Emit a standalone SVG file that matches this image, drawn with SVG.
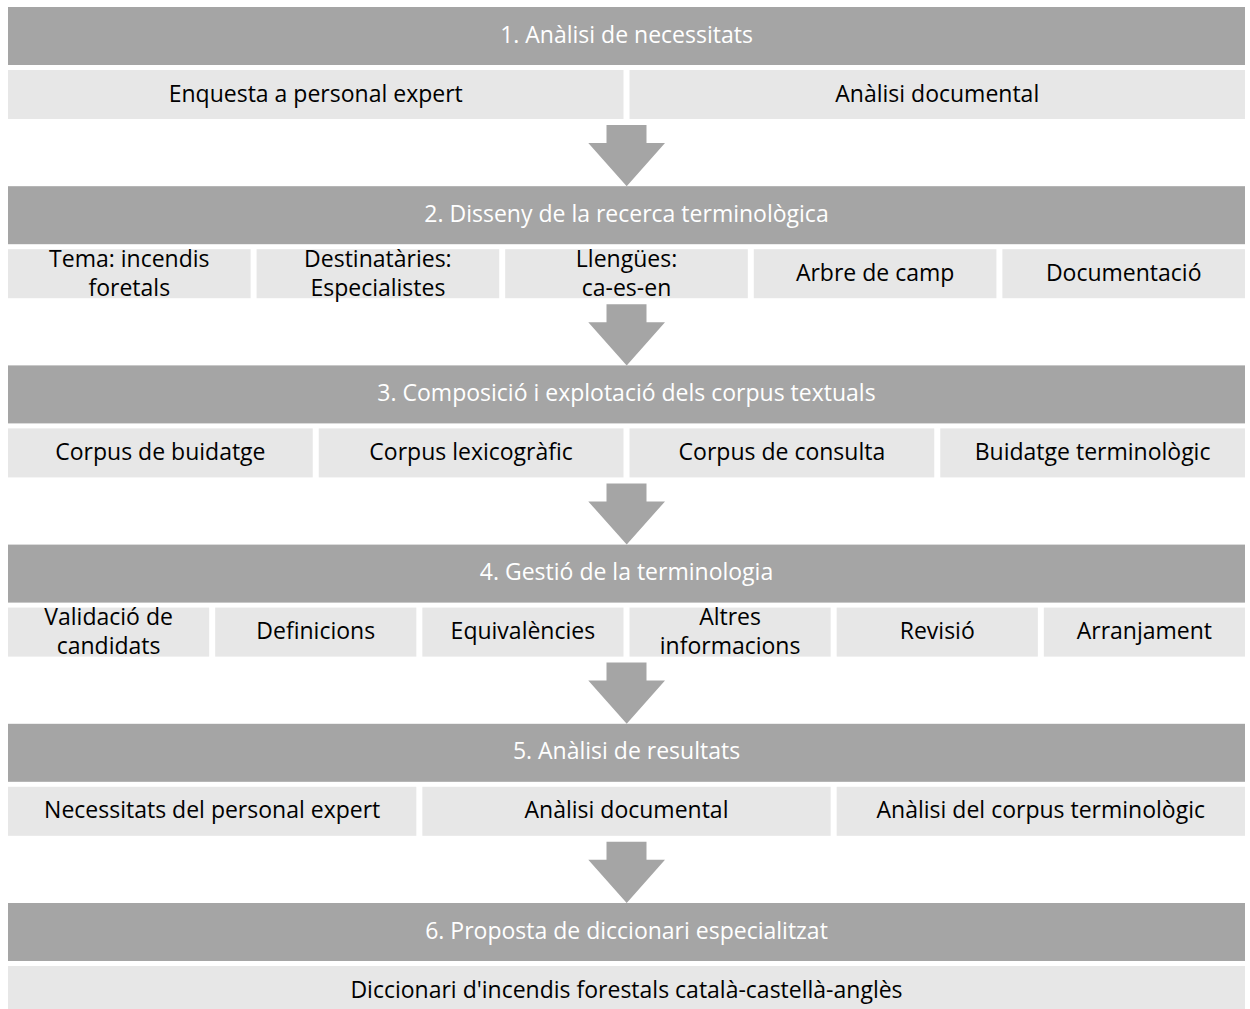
<svg xmlns="http://www.w3.org/2000/svg" width="1250" height="1009" viewBox="0 0 1250 1009">
  <style>
    .hdr { fill: #a5a5a5; }
    .cell { fill: #e7e7e7; }
    .arrow { fill: #a5a5a5; }
    text { font-family: "Open Sans", "Liberation Sans", sans-serif; font-size: 23px; text-anchor: middle; }
    .ht { fill: #ffffff; }
    .ct { fill: #000000; }
  </style>
  <defs>
    <path id="down" d="M606.5,0 H646.5 V18 H665 L626.7,61.2 L588.3,18 H606.5 Z"/>
  </defs>
  <rect width="1250" height="1009" fill="#ffffff"/>

  <!-- flow arrows between stages -->
  <g id="connectors">
    <use href="#down" class="arrow" transform="translate(0,125)"/>
    <use href="#down" class="arrow" transform="translate(0,304.2)"/>
    <use href="#down" class="arrow" transform="translate(0,483.4)"/>
    <use href="#down" class="arrow" transform="translate(0,662.6)"/>
    <use href="#down" class="arrow" transform="translate(0,841.8)"/>
  </g>

  <!-- stage 1 -->
  <g id="stage1">
    <rect class="hdr" x="8" y="7" width="1237" height="58"/>
    <text class="ht" x="626.5" y="42.5">1. Anàlisi de necessitats</text>
  </g>
  <g id="s1-enquesta">
    <rect class="cell" x="8" y="70" width="615.5" height="49"/>
    <text class="ct" x="315.75" y="101.5">Enquesta a personal expert</text>
  </g>
  <g id="s1-documental">
    <rect class="cell" x="629.5" y="70" width="615.5" height="49"/>
    <text class="ct" x="937.25" y="101.5">Anàlisi documental</text>
  </g>

  <!-- stage 2 -->
  <g id="stage2">
    <rect class="hdr" x="8" y="186.2" width="1237" height="58"/>
    <text class="ht" x="626.5" y="221.7">2. Disseny de la recerca terminològica</text>
  </g>
  <g id="s2-tema">
    <rect class="cell" x="8" y="249.2" width="242.6" height="49"/>
    <text class="ct" x="129.3" y="266.7">Tema: incendis</text>
    <text class="ct" x="129.3" y="295.7">foretals</text>
  </g>
  <g id="s2-destinataries">
    <rect class="cell" x="256.6" y="249.2" width="242.6" height="49"/>
    <text class="ct" x="377.9" y="266.7">Destinatàries:</text>
    <text class="ct" x="377.9" y="295.7">Especialistes</text>
  </g>
  <g id="s2-llengues">
    <rect class="cell" x="505.2" y="249.2" width="242.6" height="49"/>
    <text class="ct" x="626.5" y="266.7">Llengües:</text>
    <text class="ct" x="626.5" y="295.7">ca-es-en</text>
  </g>
  <g id="s2-arbre">
    <rect class="cell" x="753.8" y="249.2" width="242.6" height="49"/>
    <text class="ct" x="875.1" y="280.7">Arbre de camp</text>
  </g>
  <g id="s2-documentacio">
    <rect class="cell" x="1002.4" y="249.2" width="242.6" height="49"/>
    <text class="ct" x="1123.7" y="280.7">Documentació</text>
  </g>

  <!-- stage 3 -->
  <g id="stage3">
    <rect class="hdr" x="8" y="365.4" width="1237" height="58"/>
    <text class="ht" x="626.5" y="400.9">3. Composició i explotació dels corpus textuals</text>
  </g>
  <g id="s3-buidatge">
    <rect class="cell" x="8" y="428.4" width="304.75" height="49"/>
    <text class="ct" x="160.4" y="459.9">Corpus de buidatge</text>
  </g>
  <g id="s3-lexicografic">
    <rect class="cell" x="318.75" y="428.4" width="304.75" height="49"/>
    <text class="ct" x="471.1" y="459.9">Corpus lexicogràfic</text>
  </g>
  <g id="s3-consulta">
    <rect class="cell" x="629.5" y="428.4" width="304.75" height="49"/>
    <text class="ct" x="781.9" y="459.9">Corpus de consulta</text>
  </g>
  <g id="s3-terminologic">
    <rect class="cell" x="940.25" y="428.4" width="304.75" height="49"/>
    <text class="ct" x="1092.6" y="459.9">Buidatge terminològic</text>
  </g>

  <!-- stage 4 -->
  <g id="stage4">
    <rect class="hdr" x="8" y="544.6" width="1237" height="58"/>
    <text class="ht" x="626.5" y="580.1">4. Gestió de la terminologia</text>
  </g>
  <g id="s4-validacio">
    <rect class="cell" x="8" y="607.6" width="201.17" height="49"/>
    <text class="ct" x="108.6" y="625.1">Validació de</text>
    <text class="ct" x="108.6" y="654.1">candidats</text>
  </g>
  <g id="s4-definicions">
    <rect class="cell" x="215.17" y="607.6" width="201.17" height="49"/>
    <text class="ct" x="315.75" y="639.1">Definicions</text>
  </g>
  <g id="s4-equivalencies">
    <rect class="cell" x="422.33" y="607.6" width="201.17" height="49"/>
    <text class="ct" x="522.9" y="639.1">Equivalències</text>
  </g>
  <g id="s4-altres">
    <rect class="cell" x="629.5" y="607.6" width="201.17" height="49"/>
    <text class="ct" x="730.1" y="625.1">Altres</text>
    <text class="ct" x="730.1" y="654.1">informacions</text>
  </g>
  <g id="s4-revisio">
    <rect class="cell" x="836.67" y="607.6" width="201.17" height="49"/>
    <text class="ct" x="937.25" y="639.1">Revisió</text>
  </g>
  <g id="s4-arranjament">
    <rect class="cell" x="1043.83" y="607.6" width="201.17" height="49"/>
    <text class="ct" x="1144.4" y="639.1">Arranjament</text>
  </g>

  <!-- stage 5 -->
  <g id="stage5">
    <rect class="hdr" x="8" y="723.8" width="1237" height="58"/>
    <text class="ht" x="626.5" y="759.3">5. Anàlisi de resultats</text>
  </g>
  <g id="s5-necessitats">
    <rect class="cell" x="8" y="786.8" width="408.33" height="49"/>
    <text class="ct" x="212.2" y="818.3">Necessitats del personal expert</text>
  </g>
  <g id="s5-documental">
    <rect class="cell" x="422.33" y="786.8" width="408.33" height="49"/>
    <text class="ct" x="626.5" y="818.3">Anàlisi documental</text>
  </g>
  <g id="s5-corpus">
    <rect class="cell" x="836.67" y="786.8" width="408.33" height="49"/>
    <text class="ct" x="1040.8" y="818.3">Anàlisi del corpus terminològic</text>
  </g>

  <!-- stage 6 -->
  <g id="stage6">
    <rect class="hdr" x="8" y="903" width="1237" height="58"/>
    <text class="ht" x="626.5" y="938.5">6. Proposta de diccionari especialitzat</text>
  </g>
  <g id="s6-diccionari">
    <rect class="cell" x="8" y="966" width="1237" height="49"/>
    <text class="ct" x="626.5" y="997.5">Diccionari d'incendis forestals català-castellà-anglès</text>
  </g>
</svg>
